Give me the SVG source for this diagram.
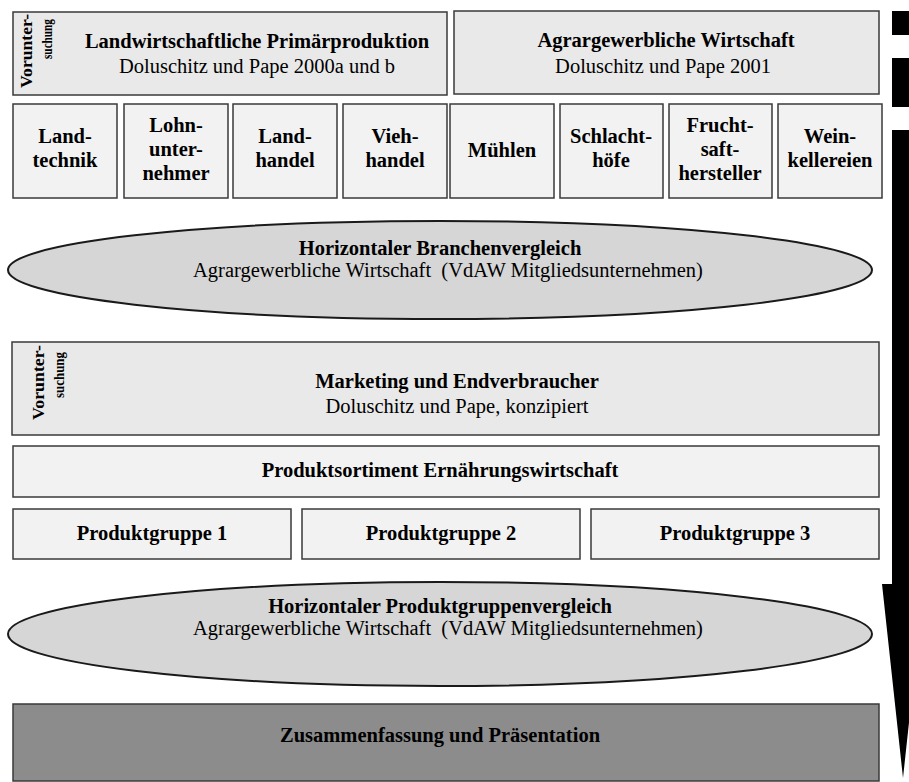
<svg xmlns="http://www.w3.org/2000/svg" width="909" height="782" viewBox="0 0 909 782">
<style>
text{font-family:"Liberation Serif","Times New Roman",serif;font-size:20.5px;fill:#000;text-anchor:middle}
.b{font-weight:bold}
.v{font-weight:bold;text-anchor:start;font-size:16.5px}
.s{font-weight:bold;text-anchor:start;font-size:15px}
.box{stroke:#3a3a3a;stroke-width:1.5}
.g1{fill:#e9e9e9}
.g2{fill:#f2f2f2}
.ell{fill:#d6d6d6;stroke:#1a1a1a;stroke-width:2}
.dark{fill:#8c8c8c}
</style>
<rect width="909" height="782" fill="#fff"/>

<g id="primaerproduktion">
<rect class="box g1" x="13" y="12" width="434" height="83"/>
<text class="v" transform="translate(32,88) rotate(-90)" textLength="74" lengthAdjust="spacingAndGlyphs">Vorunter-</text>
<text class="s" transform="translate(52,59) rotate(-90)" textLength="40" lengthAdjust="spacingAndGlyphs">suchung</text>
<text class="b" x="257" y="48">Landwirtschaftliche Primärproduktion</text>
<text x="257" y="73">Doluschitz und Pape 2000a und b</text>
</g>

<g id="agrargewerbliche-wirtschaft">
<rect class="box g1" x="454" y="11" width="425" height="83"/>
<text class="b" x="666" y="47">Agrargewerbliche Wirtschaft</text>
<text x="663" y="73">Doluschitz und Pape 2001</text>
</g>

<g id="landtechnik">
<rect class="box g2" x="13" y="104" width="104" height="94"/>
<text class="b" x="65" y="143">Land-</text>
<text class="b" x="65" y="167">technik</text>
</g>
<g id="lohnunternehmer">
<rect class="box g2" x="124" y="104" width="104" height="94"/>
<text class="b" x="176" y="132">Lohn-</text>
<text class="b" x="176" y="156">unter-</text>
<text class="b" x="176" y="180">nehmer</text>
</g>
<g id="landhandel">
<rect class="box g2" x="233" y="104" width="104" height="94"/>
<text class="b" x="285" y="143">Land-</text>
<text class="b" x="285" y="167">handel</text>
</g>
<g id="viehhandel">
<rect class="box g2" x="343" y="104" width="104" height="94"/>
<text class="b" x="395" y="143">Vieh-</text>
<text class="b" x="395" y="167">handel</text>
</g>
<g id="muehlen">
<rect class="box g2" x="450" y="104" width="104" height="94"/>
<text class="b" x="502" y="157">Mühlen</text>
</g>
<g id="schlachthoefe">
<rect class="box g2" x="560" y="104" width="103" height="94"/>
<text class="b" x="611" y="143">Schlacht-</text>
<text class="b" x="611" y="167">höfe</text>
</g>
<g id="fruchtsafthersteller">
<rect class="box g2" x="669" y="104" width="103" height="94"/>
<text class="b" x="720" y="132">Frucht-</text>
<text class="b" x="720" y="156">saft-</text>
<text class="b" x="720" y="180">hersteller</text>
</g>
<g id="weinkellereien">
<rect class="box g2" x="778" y="104" width="104" height="94"/>
<text class="b" x="830" y="143">Wein-</text>
<text class="b" x="830" y="167">kellereien</text>
</g>

<g id="branchenvergleich">
<ellipse class="ell" cx="440" cy="270" rx="432" ry="49"/>
<text class="b" x="440" y="255">Horizontaler Branchenvergleich</text>
<text x="448" y="277" xml:space="preserve">Agrargewerbliche Wirtschaft  (VdAW Mitgliedsunternehmen)</text>
</g>

<g id="marketing">
<rect class="box g1" x="12" y="342" width="867" height="93"/>
<text class="v" transform="translate(43.5,420) rotate(-90)" textLength="75" lengthAdjust="spacingAndGlyphs">Vorunter-</text>
<text class="s" transform="translate(64,398) rotate(-90)" textLength="46" lengthAdjust="spacingAndGlyphs">suchung</text>
<text class="b" x="457" y="388">Marketing und Endverbraucher</text>
<text x="457" y="413">Doluschitz und Pape, konzipiert</text>
</g>

<g id="produktsortiment">
<rect class="box g2" x="13" y="446" width="866" height="51"/>
<text class="b" x="440" y="477">Produktsortiment Ernährungswirtschaft</text>
</g>

<g id="produktgruppe-1">
<rect class="box g2" x="13" y="509" width="278" height="50"/>
<text class="b" x="152" y="540">Produktgruppe 1</text>
</g>
<g id="produktgruppe-2">
<rect class="box g2" x="302" y="509" width="278" height="50"/>
<text class="b" x="441" y="540">Produktgruppe 2</text>
</g>
<g id="produktgruppe-3">
<rect class="box g2" x="591" y="509" width="288" height="50"/>
<text class="b" x="735" y="540">Produktgruppe 3</text>
</g>

<g id="produktgruppenvergleich">
<ellipse class="ell" cx="440" cy="634" rx="432" ry="52"/>
<text class="b" x="440" y="613">Horizontaler Produktgruppenvergleich</text>
<text x="448" y="635" xml:space="preserve">Agrargewerbliche Wirtschaft  (VdAW Mitgliedsunternehmen)</text>
</g>

<g id="zusammenfassung">
<rect class="box dark" x="13" y="704" width="866" height="77"/>
<text class="b" x="440" y="742">Zusammenfassung und Präsentation</text>
</g>

<g id="connectors">
<rect x="892" y="11" width="30" height="24" fill="#000"/>
<rect x="892" y="58" width="30" height="49" fill="#000"/>
<polygon points="892,130 914,130 914,584 924,584 903,778 882,584 892,584" fill="#000"/>
</g>
</svg>
